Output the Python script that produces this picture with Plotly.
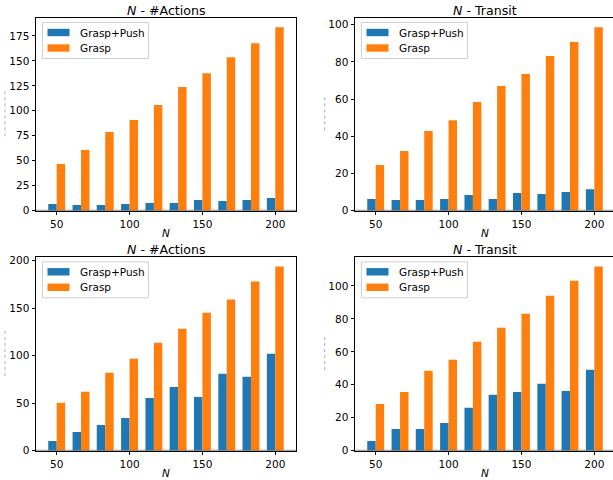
import plotly.graph_objects as go

# ---------------- data ----------------
N = [50, 66.7, 83.3, 100, 116.7, 133.3, 150, 166.7, 183.3, 200]
series_names = ["Grasp+Push", "Grasp"]
titles = ["N - #Actions", "N - Transit", "N - #Actions", "N - Transit"]

actions_top_gp = [6.7, 5.7, 5.7, 6.7, 7.7, 7.7, 10.7, 9.7, 10.7, 12.7]
actions_top_g = [46.7, 60.7, 78.7, 90.7, 105.7, 123.7, 137.7, 153.7, 167.7, 183.7]
transit_top_gp = [6.3, 5.7, 5.7, 6.3, 8.4, 6.3, 9.5, 9.0, 10.0, 11.6]
transit_top_g = [24.6, 32.1, 42.8, 48.7, 58.4, 67.0, 73.5, 83.2, 90.7, 98.7]
actions_bot_gp = [10.2, 19.7, 27.1, 34.4, 55.5, 67.1, 56.6, 80.8, 77.7, 101.9]
actions_bot_g = [50.3, 61.9, 81.9, 96.7, 113.5, 128.3, 145.2, 158.9, 177.9, 193.7]
transit_bot_gp = [5.9, 13.2, 13.2, 16.8, 26.0, 33.9, 35.7, 40.6, 36.3, 49.1]
transit_bot_g = [28.4, 35.7, 48.5, 55.2, 66.1, 74.6, 83.2, 94.1, 103.2, 111.8]

x_ticks = [50, 100, 150, 200]
y_dticks = [25, 20, 50, 20]

# ---------------- styling ----------------
W, H = 613, 480
BLUE, ORANGE = "#1f77b4", "#ff7f0e"
FONT = "DejaVu Sans"
BAR_W = 5.8

def px(x):
    return x / W

def py(y):
    return 1 - y / H

# axes pixel boxes: (left, top, right, bottom)
boxes = [
    (36, 18, 296, 210.7),
    (355, 18, 613, 210.7),
    (36, 257.3, 296, 450.7),
    (355, 257.3, 613, 450.7),
]
full_right = [296, 615, 296, 615]  # where the full axis would end (right ones clipped)
x_ranges = [[35.8, 214.2], [35.8, 212.8], [35.8, 214.2], [35.8, 212.8]]

data_pairs = [
    (actions_top_gp, actions_top_g),
    (transit_top_gp, transit_top_g),
    (actions_bot_gp, actions_bot_g),
    (transit_bot_gp, transit_bot_g),
]

fig = go.Figure()
layout = dict(
    template="none",
    width=W, height=H,
    margin=dict(l=0, r=0, t=0, b=0, pad=0, autoexpand=False),
    paper_bgcolor="white", plot_bgcolor="white",
    showlegend=False,
    font=dict(family=FONT, size=10.5, color="black"),
)
annotations = []
shapes = []

for i, (gp, g) in enumerate(data_pairs):
    k = "" if i == 0 else str(i + 1)
    xa, ya = "x" + k, "y" + k
    fig.add_trace(go.Bar(x=N, y=gp, width=BAR_W, offset=-BAR_W, marker_color=BLUE,
                         marker_line_width=0, name=series_names[0], xaxis=xa, yaxis=ya))
    fig.add_trace(go.Bar(x=N, y=g, width=BAR_W, offset=0, marker_color=ORANGE,
                         marker_line_width=0, name=series_names[1], xaxis=xa, yaxis=ya))
    l, t, r, b = boxes[i]
    is_right = i in (1, 3)
    ymax = max(max(gp), max(g)) * 1.05
    layout["xaxis" + k] = dict(
        domain=[px(l), min(1.0, px(r))], anchor=ya, range=x_ranges[i], automargin=False,
        tickvals=x_ticks, ticks="outside", ticklen=3.5, tickwidth=1, tickcolor="black",
        showline=True, linecolor="black", linewidth=1, mirror=True,
        showgrid=False, zeroline=False, tickfont=dict(size=10.5, family=FONT, color="black"),
    )
    layout["yaxis" + k] = dict(
        domain=[py(b), py(t)], anchor=xa, range=[0, ymax], automargin=False,
        tick0=0, dtick=y_dticks[i], ticks="outside", ticklen=3.5, tickwidth=1,
        tickcolor="black", showline=True, linecolor="black", linewidth=1,
        mirror=not is_right, showgrid=False, zeroline=False,
        tickfont=dict(size=10.5, family=FONT, color="black"),
    )
    # horizontal zero line over bars
    shapes.append(dict(type="line", xref=xa + " domain", yref=ya, x0=0, x1=1, y0=0, y1=0,
                       line=dict(color="rgba(110,110,110,0.75)", width=2), layer="above"))
    # title
    cx = (l + full_right[i]) / 2
    annotations.append(dict(text="<i>N</i> - " + titles[i].split(" - ")[1], xref="paper", yref="paper",
                            x=px(cx), y=py(t - 8), xanchor="center", yanchor="middle",
                            showarrow=False, font=dict(size=12.6, family=FONT, color="black")))
    # x axis label
    annotations.append(dict(text="<i>N</i>", xref="paper", yref="paper",
                            x=px(cx), y=py(b + 22.5), xanchor="center", yanchor="middle",
                            showarrow=False, font=dict(size=10.5, family=FONT, color="black")))
    # faint y-axis label (unreadable in the original) -> dotted mark
    ylx = 5 if not is_right else 324.7
    yc = (t + b) / 2
    half = 23 if not is_right else 17
    shapes.append(dict(type="line", xref="paper", yref="paper", x0=px(ylx), x1=px(ylx),
                       y0=py(yc - half), y1=py(yc + half),
                       line=dict(color="rgba(120,120,120,0.6)", width=1, dash="dot")))
    # legend box
    bx0, by0 = l + 6.5, t + 4.5
    bx1, by1 = l + 112.5, t + 40.5
    shapes.append(dict(type="rect", xref="paper", yref="paper", x0=px(bx0), x1=px(bx1),
                       y0=py(by1), y1=py(by0), fillcolor="rgba(255,255,255,0.8)",
                       line=dict(color="#d0d0d0", width=1), layer="above"))
    for j, (col, name) in enumerate(zip([BLUE, ORANGE], series_names)):
        cy = t + 14.5 + j * 15.5
        shapes.append(dict(type="rect", xref="paper", yref="paper",
                           x0=px(bx0 + 5), x1=px(bx0 + 27), y0=py(cy + 3.7), y1=py(cy - 3.7),
                           fillcolor=col, line=dict(width=0), layer="above"))
        annotations.append(dict(text=name, xref="paper", yref="paper", x=px(bx0 + 35), y=py(cy),
                                xanchor="left", yanchor="middle", showarrow=False,
                                font=dict(size=10.5, family=FONT, color="black")))

layout["annotations"] = annotations
layout["shapes"] = shapes
fig.update_layout(**layout)
fig.write_html(
    "out.html",
    config={"displayModeBar": False},
    post_script="document.body.style.margin='0px';document.body.style.overflow='hidden';",
)
